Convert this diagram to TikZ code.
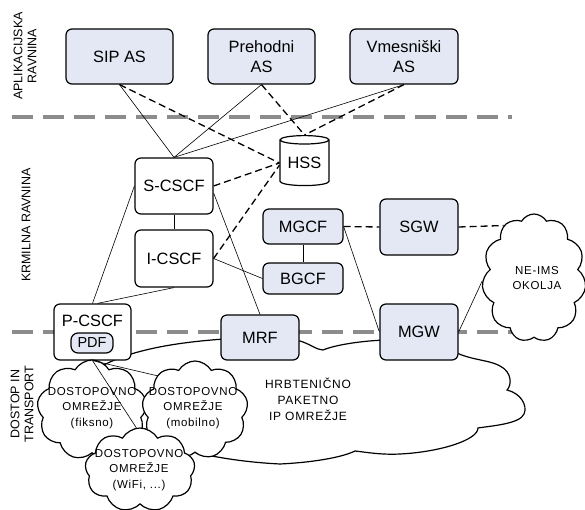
\documentclass[tikz,border=0pt]{standalone}
\usepackage{fontspec}
\setmainfont{Liberation Sans}
\newfontfamily\spacedfont[LetterSpace=6]{Liberation Sans}
\usetikzlibrary{shapes.geometric,shapes.symbols,calc}
\definecolor{boxblue}{RGB}{227,232,244}
\definecolor{planegray}{RGB}{140,140,140}
\begin{document}
\begin{tikzpicture}[x=1pt,y=-1pt,
  box/.style={draw=black, line width=1.2pt, rounded corners=6pt, fill=boxblue, align=center, font=\fontsize{16.4}{20}\selectfont, inner sep=0pt},
  wbox/.style={box, fill=white},
  conn/.style={line width=0.6pt},
  dconn/.style={line width=1.3pt, dash pattern=on 7pt off 4pt},
  plane/.style={planegray, line width=4pt, dash pattern=on 21pt off 10pt},
  cl/.style={cloud, cloud puffs=9, cloud puff arc=120, cloud ignores aspect, draw, line width=1.2pt, fill=white, inner sep=0pt},
  cltext/.style={align=center, inner sep=0pt, font=\spacedfont\fontsize{11.5}{15.5}\selectfont},
  lbl/.style={rotate=90, align=center, font=\fontsize{12.5}{14}\selectfont}
]
\useasboundingbox[fill=white] (0,0) rectangle (585,510);

% plane separators
\coordinate (p1a) at (12,117); \coordinate (p1b) at (512,117);
\coordinate (p2a) at (12,332); \coordinate (p2b) at (515,332);
\draw[plane] (p1a) -- (p1b);
\draw[plane] (p2a) -- (p2b);

% plane labels
\node[lbl] (lapl) at (25,56) {APLIKACIJSKA\\RAVNINA};
\node[lbl] (lkrm) at (26,225) {KRMILNA RAVNINA};
\node[lbl] (ldost) at (22,404) {DOSTOP IN\\TRANSPORT};

% backbone cloud outline
\coordinate (c0) at (102,366);
\coordinate (c9) at (193,452);
\draw[line width=1.2pt] (c0) .. controls (135,348) and (185,341) .. (240,338)
  -- (300,341) .. controls (310,344) and (317,350) .. (323,350)
  .. controls (335,345) and (360,341) .. (385,340)
  -- (455,352) .. controls (470,360) and (490,360) .. (500,366)
  .. controls (512,372) and (512,385) .. (507,390)
  .. controls (520,393) and (528,405) .. (524,414)
  .. controls (520,424) and (490,426) .. (478,428)
  .. controls (478,440) and (440,452) .. (400,454)
  .. controls (380,455) and (365,452) .. (355,451)
  .. controls (345,456) and (320,462) .. (280,464)
  .. controls (240,462) and (210,456) .. (c9);
\node[font=\spacedfont\fontsize{12}{16}\selectfont, align=center] (core) at (308,399) {HRBTENIČNO\\PAKETNO\\IP OMREŽJE};

% nodes
\node[box, minimum width=107pt, minimum height=55pt] (sipas) at (119.5,56.5) {SIP AS};
\node[box, minimum width=107pt, minimum height=55pt] (preh) at (261.5,56.5) {Prehodni\\AS};
\node[box, minimum width=108pt, minimum height=55pt] (vmes) at (404,56.5) {Vmesniški\\AS};
\node[cylinder, shape border rotate=90, aspect=0.25, draw, line width=1.2pt, fill=white, minimum width=49pt, minimum height=50pt, inner sep=0pt, font=\fontsize{16.4}{20}\selectfont] (hss) at (304.5,163) {HSS};
\node[wbox, minimum width=78pt, minimum height=56pt] (scscf) at (174,186) {S-CSCF};
\node[wbox, minimum width=78pt, minimum height=57pt] (icscf) at (174,258.5) {I-CSCF};
\node[wbox, minimum width=77pt, minimum height=56pt] (pcscf) at (92.5,332) {};
\node[font=\fontsize{16.4}{20}\selectfont, inner sep=0pt] (pcscft) at (92.5,321) {P-CSCF};
\node[box, rounded corners=7pt, minimum width=42pt, minimum height=20pt, font=\fontsize{14.5}{16}\selectfont] (pdf) at (92,343) {PDF};
\node[box, minimum width=80pt, minimum height=35pt] (mgcf) at (303,226.5) {MGCF};
\node[box, minimum width=80pt, minimum height=31pt] (bgcf) at (303,278.5) {BGCF};
\node[box, minimum width=78pt, minimum height=56pt] (sgw) at (419,227) {SGW};
\node[box, minimum width=78pt, minimum height=56pt] (mgw) at (419,332) {MGW};
\node[box, minimum width=78pt, minimum height=45pt] (mrf) at (260,337.5) {MRF};

% clouds
\node[cl, cloud puffs=11, minimum width=104pt, minimum height=128pt] (neims) at (534,278) {};
\node[cltext] (neimst) at (537,278) {NE-IMS\\OKOLJA};
\node[cl, minimum width=110pt, minimum height=100pt] (fiks) at (92,410) {};
\node[cltext] (fikst) at (92,408) {DOSTOPOVNO\\OMREŽJE\\(fiksno)};
\node[cl, minimum width=106pt, minimum height=98pt] (mob) at (195,410) {};
\node[cltext] (mobt) at (193,408) {DOSTOPOVNO\\OMREŽJE\\(mobilno)};
\node[cl, minimum width=110pt, minimum height=84pt] (wifi) at (140,470) {};
\node[cltext] (wifit) at (139,470) {DOSTOPOVNO\\OMREŽJE\\(WiFi, ...)};

% solid connectors
\draw[conn] (scscf.north) -- (sipas.south);
\draw[conn] (scscf.north) -- (preh.south);
\draw[conn] (scscf.north) -- (vmes.south);
\draw[conn] (scscf.south) -- (icscf.north);
\draw[conn] (scscf.west) -- (pcscf.north);
\draw[conn] (icscf.south) -- (pcscf.80);
\draw[conn] (scscf.-10) -- (mrf.north);
\draw[conn] (icscf.east) -- (bgcf.west);
\draw[conn] (mgcf.south) -- (bgcf.north);
\draw[conn] (mgcf.east) -- (mgw.west);
\draw[conn] (mgw.east) -- (neims.183);
\draw[conn] (pcscf.south) -- (mob.138);
\draw[conn] (pcscf.south) -- (wifi.95);

% dashed connectors
\draw[dconn] (sipas.south) -- (hss.180);
\draw[dconn] (preh.south) -- (hss.90);
\draw[dconn] (vmes.south) -- (hss.90);
\draw[dconn] (scscf.east) -- (hss.180);
\draw[dconn] (icscf.east) -- (hss.185);
\draw[dconn] (mgcf.east) -- (sgw.west);
\draw[dconn] (sgw.east) -- (neims.120);
\end{tikzpicture}
\end{document}
